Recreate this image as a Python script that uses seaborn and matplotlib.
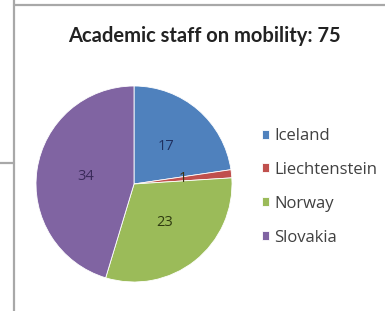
import matplotlib
matplotlib.use('Agg')
import matplotlib.pyplot as plt
import seaborn as sns
from matplotlib.lines import Line2D

countries = ['Iceland', 'Liechtenstein', 'Norway', 'Slovakia']
staff = [17, 1, 23, 34]
colors = ['#4F81BD', '#C0504D', '#9BBB59', '#8064A2']
label_colors = ['#1F3060', '#3A3010', '#2E3A10', '#3A2A5A']
title = 'Academic staff on mobility: ' + str(sum(staff))

sns.set_style('white')
plt.rcParams['font.family'] = ['Open Sans', 'DejaVu Sans']

W, H = 385, 311
fig = plt.figure(figsize=(W / 100, H / 100), dpi=100)

# frame lines from the original screenshot
fig.add_artist(Line2D([14 / W, 14 / W], [0, 1], color='#a8a8a8', lw=1.6))
fig.add_artist(Line2D([14 / W, 1], [1 - 5 / H, 1 - 5 / H], color='#a8a8a8', lw=1.6))
fig.add_artist(Line2D([0, 14 / W], [1 - 163 / H, 1 - 163 / H], color='#a8a8a8', lw=1.6))

# pie
cx, cy, r = 134, 184, 98
ax = fig.add_axes([(cx - r) / W, 1 - (cy + r) / H, 2 * r / W, 2 * r / H])
wedges, texts, autotexts = ax.pie(
    staff, colors=colors, startangle=90, counterclock=False,
    autopct=lambda p: f'{round(p * sum(staff) / 100):.0f}', pctdistance=0.5,
    wedgeprops=dict(linewidth=0.6, edgecolor='white'),
    textprops=dict(fontsize=10.5))
for t, c in zip(autotexts, label_colors):
    t.set_color(c)
ax.set_xlim(-1, 1)
ax.set_ylim(-1, 1)
ax.set_aspect('equal')

fig.text(204 / W, 1 - 36.5 / H, title, ha='center', va='center',
         fontsize=14.5, fontweight='bold', color='#222222', family='Lato')

leg = fig.legend(wedges, countries, loc='upper left',
                 bbox_to_anchor=(262 / W, 1 - 128 / H),
                 frameon=False, fontsize=12, handlelength=0.42, handleheight=0.45,
                 handletextpad=0.3, labelspacing=1.07, borderpad=0, borderaxespad=0)
for t in leg.get_texts():
    t.set_color('#404040')

fig.savefig('out.png', dpi=100)
